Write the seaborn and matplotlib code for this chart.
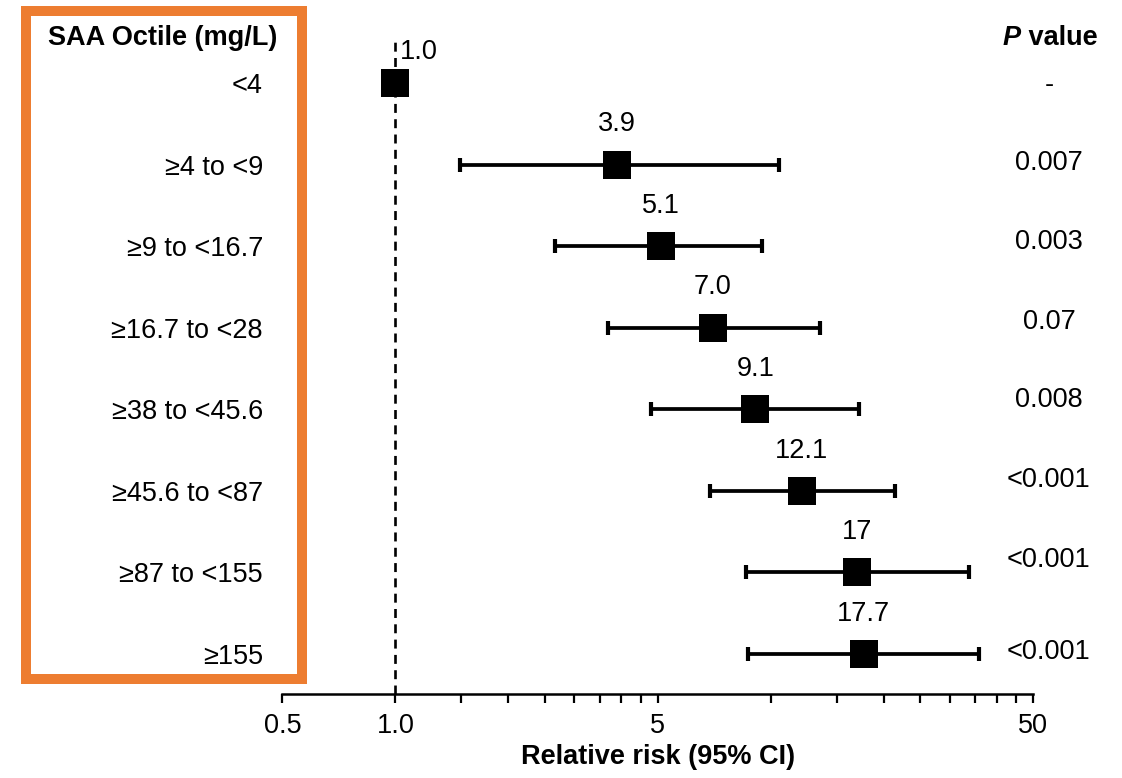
import matplotlib
matplotlib.use("Agg")
import matplotlib.pyplot as plt
import matplotlib.patches as mpatches
import matplotlib.transforms as mtransforms
import numpy as np
import pandas as pd
import seaborn as sns

# ---- data ----
categories = ["<4", "≥4 to <9", "≥9 to <16.7", "≥16.7 to <28", "≥38 to <45.6",
              "≥45.6 to <87", "≥87 to <155", "≥155"]
rr = [1.0, 3.9, 5.1, 7.0, 9.1, 12.1, 17.0, 17.7]
rr_labels = ["1.0", "3.9", "5.1", "7.0", "9.1", "12.1", "17", "17.7"]
ci_low = [np.nan, 1.49, 2.67, 3.69, 4.8, 6.9, 8.6, 8.7]
ci_high = [np.nan, 10.5, 9.5, 13.5, 17.2, 21.4, 33.8, 35.9]
p_values = ["-", "0.007", "0.003", "0.07", "0.008", "<0.001", "<0.001", "<0.001"]
major_ticks = [0.5, 1, 5, 50]
major_labels = ["0.5", "1.0", "5", "50"]
minor_ticks = [1.5, 2, 2.5, 3, 3.5, 4, 4.5, 10, 15, 20, 25, 30, 35, 40, 45]

# layout-only: vertical offsets (points) of P-value texts
p_offsets = [-1.5, 1, 3, 4, 6.5, 8, 9, 1.5]

df = pd.DataFrame({"cat": categories, "rr": rr, "lo": ci_low, "hi": ci_high,
                   "row": np.arange(len(categories))})

sns.set_theme(style="white")
plt.rcParams["font.family"] = ["Liberation Sans", "DejaVu Sans"]
plt.rcParams["text.color"] = "black"
plt.rcParams["axes.labelcolor"] = "black"
plt.rcParams["xtick.color"] = "black"
plt.rcParams["ytick.color"] = "black"
FS = 19.5

fig = plt.figure(figsize=(11.22, 7.78), dpi=100)
ax = fig.add_axes([282.4 / 1122, 1 - 694 / 778, 750.6 / 1122, 652 / 778])
ax.set_xscale("log")

# reference line
ax.axvline(1.0, color="black", lw=1.9, dashes=(3.4, 2.4), zorder=1)

# confidence intervals
ci = df.dropna()
ax.errorbar(ci["rr"], ci["row"],
            xerr=[ci["rr"] - ci["lo"], ci["hi"] - ci["rr"]],
            fmt="none", ecolor="black", elinewidth=2.7, capsize=5, capthick=3,
            zorder=2)

# point estimates
sns.scatterplot(data=df, x="rr", y="row", marker="s", s=400, color="black",
                linewidth=0, ax=ax, zorder=3, legend=False)

# value labels
for i, (v, lab) in enumerate(zip(rr, rr_labels)):
    if i == 0:
        ax.annotate(lab, (v, i), xytext=(3.5, 22), textcoords="offset points",
                    ha="left", va="center", fontsize=FS, color="black")
    else:
        ax.annotate(lab, (v, i), xytext=(0, 29), textcoords="offset points",
                    ha="center", va="center", fontsize=FS, color="black")

ax.set_xlim(0.5, 50)
ax.set_ylim((694 - 83) / 81.57, (42 - 83) / 81.57)

ax.set_xticks(major_ticks)
ax.set_xticklabels(major_labels, fontsize=FS)
ax.set_xticks(minor_ticks, minor=True)
ax.xaxis.set_minor_formatter(matplotlib.ticker.NullFormatter())
ax.tick_params(axis="x", which="both", direction="out", length=6.5, width=1.6,
               color="black", bottom=True, pad=7, labelcolor="black")

ax.set_yticks(df["row"])
ax.set_yticklabels(categories, fontsize=FS)
ax.tick_params(axis="y", length=0, pad=14, labelcolor="black")

for s in ["top", "right", "left"]:
    ax.spines[s].set_visible(False)
ax.spines["bottom"].set_color("black")
ax.spines["bottom"].set_linewidth(1.8)

ax.set_ylabel("")
ax.set_xlabel("Relative risk (95% CI)", fontsize=FS, fontweight="bold",
              labelpad=4, color="black")

# P values column
trans = mtransforms.blended_transform_factory(fig.transFigure, ax.transData)
for i, (p, off) in enumerate(zip(p_values, p_offsets)):
    t = mtransforms.offset_copy(trans, fig=fig, x=0, y=off, units="points")
    ax.text(1049 / 1122, i, p, transform=t, ha="center", va="center",
            fontsize=FS, color="black", clip_on=False)

# headers
fig.text(48 / 1122, 1 - 38 / 778, "SAA Octile (mg/L)", ha="left", va="center",
         fontsize=FS, fontweight="bold", color="black")
fig.text(1021 / 1122, 1 - 38 / 778, "P", ha="right", va="center",
         fontsize=FS, fontweight="bold", fontstyle="italic", color="black")
fig.text(1021 / 1122, 1 - 38 / 778, " value", ha="left", va="center",
         fontsize=FS, fontweight="bold", color="black")

# orange frame around category column
rect = mpatches.Rectangle((26.5 / 1122, 1 - 678.5 / 778), 275.5 / 1122, 668 / 778,
                          transform=fig.transFigure, fill=False,
                          edgecolor="#ED7D31", linewidth=7.2, zorder=5)
fig.patches.append(rect)

fig.savefig("out.png", dpi=100)
